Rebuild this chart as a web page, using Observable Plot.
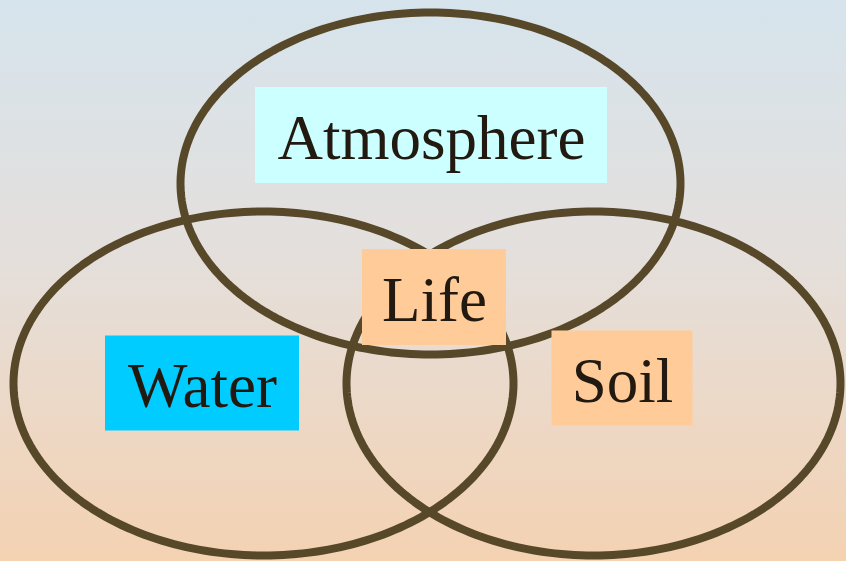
<!DOCTYPE html>
<html>
<head>
<meta charset="utf-8">
<script src="https://cdn.jsdelivr.net/npm/d3@7"></script>
<script src="https://cdn.jsdelivr.net/npm/@observablehq/plot@0.6"></script>
<style>
  html, body { margin: 0; padding: 0; background: #e6dfda; }
  #chart svg { display: block; }
</style>
</head>
<body>
<div id="chart"></div>
<script>
// Sets (ellipses) of the diagram
const sets = ["Atmosphere", "Water", "Soil"];
const setCenterX = [430, 263, 593];
const setCenterY = [183, 383, 383];
const setRadiusX = [250, 250, 247];
const setRadiusY = [171, 172, 172];

// Labels with their boxes
const labels = ["Atmosphere", "Water", "Soil", "Life"];
const labelX = [431, 202, 622, 434];
const labelY = [135, 383, 378, 297];
const boxWidth = [352, 194, 141, 144];
const boxHeight = [96, 95, 95, 96];
const boxFill = ["#ccffff", "#00ccff", "#ffcc99", "#ffcc99"];

const W = 846, H = 561;

// ellipse outlines built from centers and radii
const outline = [];
sets.forEach((s, i) => {
  const n = 240;
  for (let k = 0; k < n; k++) {
    const t = (k / n) * 2 * Math.PI;
    outline.push({set: s, x: setCenterX[i] + setRadiusX[i] * Math.cos(t), y: setCenterY[i] + setRadiusY[i] * Math.sin(t)});
  }
});

const boxes = labels.map((l, i) => ({
  label: l,
  x: labelX[i], y: labelY[i],
  x1: labelX[i] - boxWidth[i] / 2, x2: labelX[i] + boxWidth[i] / 2,
  y1: labelY[i] - boxHeight[i] / 2, y2: labelY[i] + boxHeight[i] / 2,
  fill: boxFill[i]
}));

const chart = Plot.plot({
  width: W,
  height: H,
  margin: 0,
  x: {domain: [0, W], range: [0, W], axis: null},
  y: {domain: [0, H], range: [0, H], axis: null},
  style: {background: "linear-gradient(to bottom, #d6e4ed 0%, #e4dfdc 45%, #f4d2b2 100%)"},
  marks: [
    Plot.line(outline, {x: "x", y: "y", z: "set", curve: "linear-closed", stroke: "#574829", strokeWidth: 8}),
    Plot.rect(boxes, {x1: "x1", x2: "x2", y1: "y1", y2: "y2", fill: d => d.fill}),
    Plot.text(boxes, {x: "x", y: "y", text: "label", fontFamily: "Liberation Serif", fontSize: 63, fill: "#221a10", dy: 3})
  ]
});
document.getElementById("chart").appendChild(chart);
</script>
</body>
</html>
